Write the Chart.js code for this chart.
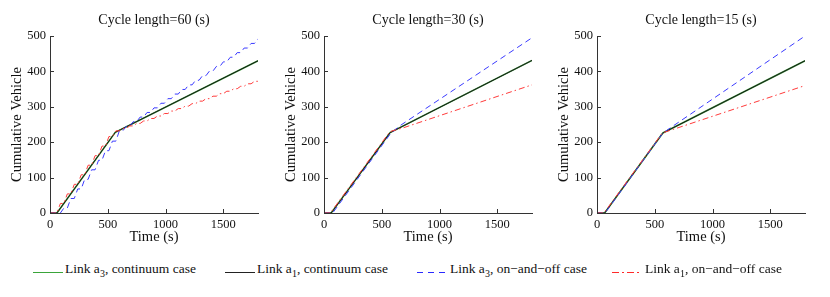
<!DOCTYPE html>
<html>
<head>
<meta charset="utf-8">
<script src="https://cdn.jsdelivr.net/npm/chart.js@4.4.1/dist/chart.umd.min.js"></script>
<style>
  body { margin: 0; background: #fff; }
  #wrap { position: relative; width: 830px; height: 297px; font-family: 'Liberation Serif', 'DejaVu Serif', serif; }
  .panel { position: absolute; top: 0; width: 275px; height: 250px; }
  .leg { position: absolute; top: 262px; font-size: 13.5px; color: #111; white-space: nowrap; line-height: 14px; }
  .leg sub { font-size: 10px; vertical-align: -4px; line-height: 0; }
  .leg svg { position: absolute; top: 0; }
</style>
</head>
<body>
<div id="wrap">
  <div class="panel" style="left:0px"><canvas id="c60"></canvas></div>
  <div class="panel" style="left:274px"><canvas id="c30"></canvas></div>
  <div class="panel" style="left:547px"><canvas id="c15"></canvas></div>

  <div class="leg" style="left:33px">
    <svg width="31" height="14" style="left:0"><line x1="0" y1="10.5" x2="30" y2="10.5" stroke="#3aa53a" stroke-width="1"/></svg>
    <span style="margin-left:32px">Link a<sub>3</sub>, continuum case</span>
  </div>
  <div class="leg" style="left:225px">
    <svg width="31" height="14" style="left:0"><line x1="0" y1="10.5" x2="30" y2="10.5" stroke="#222" stroke-width="1"/></svg>
    <span style="margin-left:32px">Link a<sub>1</sub>, continuum case</span>
  </div>
  <div class="leg" style="left:417px">
    <svg width="31" height="14" style="left:0"><line x1="0" y1="10.5" x2="30" y2="10.5" stroke="#2a2aff" stroke-width="1" stroke-dasharray="6,5"/></svg>
    <span style="margin-left:33px">Link a<sub>3</sub>, on&minus;and&minus;off case</span>
  </div>
  <div class="leg" style="left:612px">
    <svg width="31" height="14" style="left:0"><line x1="0" y1="10.5" x2="30" y2="10.5" stroke="#ff2a2a" stroke-width="1" stroke-dasharray="7,3,2,3"/></svg>
    <span style="margin-left:33px">Link a<sub>1</sub>, on&minus;and&minus;off case</span>
  </div>
</div>

<script>
// continuum case (same for both links)
const contTime60 = [0, 60, 565, 1800];
const contVeh60 = [0, 0, 228, 430];
const contTime30 = [0, 62, 572, 1800];
const contVeh30 = [0, 0, 227, 431];
const contTime15 = [0, 66, 570, 1800];
const contVeh15 = [0, 0, 226, 430];

// on-and-off case, cycle 60 s
const time60 = [0, 30, 60, 90, 120, 150, 180, 210, 240, 270, 300, 330, 360, 390, 420, 450, 480, 510, 540, 570,
  600, 630, 660, 690, 720, 750, 780, 810, 840, 870, 900, 930, 960, 990, 1020, 1050, 1080, 1110, 1140, 1170,
  1200, 1230, 1260, 1290, 1320, 1350, 1380, 1410, 1440, 1470, 1500, 1530, 1560, 1590, 1620, 1650, 1680, 1710, 1740, 1770, 1800];
const a3OnOff60 = [0, 0, 0, 0, 14, 14, 41, 41, 68, 68, 95, 95, 122, 122, 149, 149, 176, 176, 203, 203,
  232, 232, 245, 245, 258, 258, 271, 271, 284, 284, 297, 297, 310, 310, 323, 323, 336, 336, 349, 349,
  362, 362, 375, 375, 388, 388, 401, 401, 414, 414, 427, 427, 440, 440, 453, 453, 466, 466, 479, 479, 492];
const a1OnOff60 = [0, 0, 0, 27, 27, 54, 54, 81, 81, 108, 108, 135, 135, 162, 162, 189, 189, 216, 216, 232,
  232, 239, 239, 246, 246, 253, 253, 260, 260, 267, 267, 274, 274, 281, 281, 288, 288, 295, 295, 302,
  302, 309, 309, 316, 316, 323, 323, 330, 330, 337, 337, 344, 344, 351, 351, 358, 358, 365, 365, 372, 372];

// on-and-off case, cycle 30 s
const a3Time30 = [0, 75, 575, 650, 1800];
const a3OnOff30 = [0, 0, 224, 245, 495];
const a1Time30 = [0, 55, 570, 680, 1800];
const a1OnOff30 = [0, 0, 230, 240, 362];

// on-and-off case, cycle 15 s
const a3Time15 = [0, 70, 570, 1800];
const a3OnOff15 = [0, 0, 226, 500];
const a1Time15 = [0, 60, 565, 1800];
const a1OnOff15 = [0, 0, 226, 360];

const xTicks = [0, 500, 1000, 1500];
const yTicks = [0, 100, 200, 300, 400, 500];

const FONT = "'Liberation Serif', 'DejaVu Serif', serif";

function pts(xs, ys) {
  return xs.map((x, i) => ({ x: x, y: ys[i] }));
}

// matlab style inward ticks + title centred over the plot box
const matlabAxes = {
  id: 'matlabAxes',
  afterDraw(chart) {
    const { ctx, chartArea, scales } = chart;
    ctx.save();
    ctx.strokeStyle = '#333';
    ctx.lineWidth = 1;
    ctx.beginPath();
    xTicks.forEach(v => {
      const px = Math.round(scales.x.getPixelForValue(v)) + 0.5;
      ctx.moveTo(px, chartArea.bottom);
      ctx.lineTo(px, chartArea.bottom - 4);
    });
    yTicks.forEach(v => {
      const py = Math.round(scales.y.getPixelForValue(v)) + 0.5;
      ctx.moveTo(chartArea.left, py);
      ctx.lineTo(chartArea.left + 4, py);
    });
    ctx.stroke();
    ctx.fillStyle = '#111';
    ctx.font = '14px ' + FONT;
    ctx.textAlign = 'center';
    ctx.textBaseline = 'middle';
    ctx.fillText(chart.options.plugins.panelTitle, (chartArea.left + chartArea.right) / 2, 20);
    ctx.restore();
  }
};

function makeChart(id, title, cont, a3, a1) {
  const ctx = document.getElementById(id).getContext('2d');
  return new Chart(ctx, {
    type: 'line',
    data: {
      datasets: [
        {
          label: 'Link a3, continuum case',
          data: pts(cont[0], cont[1]),
          borderColor: '#3a9a3a',
          borderWidth: 1.6,
          pointRadius: 0,
          tension: 0,
          order: 4
        },
        {
          label: 'Link a1, continuum case',
          data: pts(cont[0], cont[1]),
          borderColor: '#1a1a1a',
          borderWidth: 1,
          pointRadius: 0,
          tension: 0,
          order: 3
        },
        {
          label: 'Link a3, on-and-off case',
          data: pts(a3[0], a3[1]),
          borderColor: '#3a3aff',
          borderWidth: 1,
          borderDash: [6, 4],
          pointRadius: 0,
          tension: 0,
          order: 2
        },
        {
          label: 'Link a1, on-and-off case',
          data: pts(a1[0], a1[1]),
          borderColor: '#ff3a3a',
          borderWidth: 1,
          borderDash: [6, 3, 1.5, 3],
          pointRadius: 0,
          tension: 0,
          order: 1
        }
      ]
    },
    options: {
      responsive: true,
      maintainAspectRatio: false,
      animation: false,
      layout: { padding: { top: 36, right: 17, left: 0, bottom: 0 } },
      plugins: {
        legend: { display: false },
        tooltip: { enabled: false },
        panelTitle: title
      },
      scales: {
        x: {
          type: 'linear',
          min: 0,
          max: 1800,
          afterFit: s => { s.height = 37; },
          afterBuildTicks: s => { s.ticks = xTicks.map(v => ({ value: v })); },
          grid: { display: false, drawTicks: false, tickLength: 0 },
          border: { display: true, color: '#333', width: 1 },
          ticks: { padding: 4, color: '#111', font: { family: FONT, size: 12.5 }, maxRotation: 0, autoSkip: false, callback: v => String(v) },
          title: { display: true, text: 'Time (s)', color: '#111', font: { family: FONT, size: 14.5 }, padding: { top: 0, bottom: 4 } }
        },
        y: {
          min: 0,
          max: 500,
          afterFit: s => { s.width = 50; },
          afterBuildTicks: s => { s.ticks = yTicks.map(v => ({ value: v })); },
          grid: { display: false, drawTicks: false, tickLength: 0 },
          border: { display: true, color: '#333', width: 1 },
          ticks: { padding: 4, color: '#111', font: { family: FONT, size: 12.5 }, autoSkip: false, callback: v => String(v) },
          title: { display: true, text: 'Cumulative Vehicle', color: '#111', font: { family: FONT, size: 14.5 }, padding: { top: 8, bottom: 0 } }
        }
      }
    },
    plugins: [matlabAxes]
  });
}

makeChart('c60', 'Cycle length=60 (s)', [contTime60, contVeh60], [time60, a3OnOff60], [time60, a1OnOff60]);
makeChart('c30', 'Cycle length=30 (s)', [contTime30, contVeh30], [a3Time30, a3OnOff30], [a1Time30, a1OnOff30]);
makeChart('c15', 'Cycle length=15 (s)', [contTime15, contVeh15], [a3Time15, a3OnOff15], [a1Time15, a1OnOff15]);
</script>
</body>
</html>
